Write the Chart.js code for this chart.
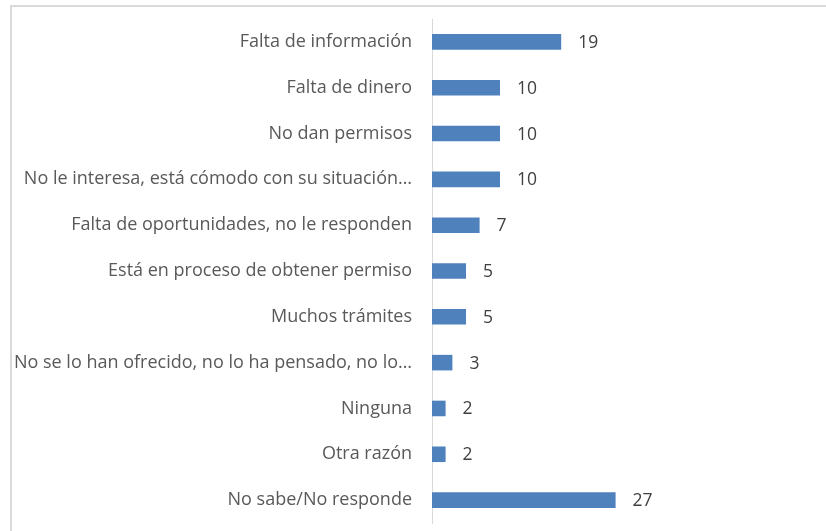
<!DOCTYPE html>
<html>
<head>
<meta charset="utf-8">
<script src="https://cdn.jsdelivr.net/npm/chart.js@4/dist/chart.umd.min.js"></script>
<style>
	body { margin: 0; background: #fff; }
	#wrap { position: relative; width: 826px; height: 531px; }
	#frame { position: absolute; left: 10px; top: 5px; right: 0; bottom: 0; border-top: 2px solid #d9d9d9; border-left: 2px solid #d9d9d9; }
	canvas { position: absolute; left: 0; top: 0; }
</style>
</head>
<body>
<div id="wrap">
	<div id="frame"></div>
	<canvas id="chart" width="826" height="531"></canvas>
</div>
<script>
// razones (%)
const categories = [
	'Falta de información',
	'Falta de dinero',
	'No dan permisos',
	'No le interesa, está cómodo con su situación…',
	'Falta de oportunidades, no le responden',
	'Está en proceso de obtener permiso',
	'Muchos trámites',
	'No se lo han ofrecido, no lo ha pensado, no lo…',
	'Ninguna',
	'Otra razón',
	'No sabe/No responde',
];
const values = [19, 10, 10, 10, 7, 5, 5, 3, 2, 2, 27];

const barColor = '#4f81bd';
const textColor = '#595959';

// value labels at the end of each bar
const valueLabels = {
	id: 'valueLabels',
	afterDatasetsDraw(chart) {
		const ctx = chart.ctx;
		const meta = chart.getDatasetMeta(0);
		ctx.save();
		ctx.font = '17.5px "Open Sans"';
		ctx.fillStyle = '#404040';
		ctx.textAlign = 'left';
		ctx.textBaseline = 'middle';
		meta.data.forEach((bar, i) => {
			ctx.fillText(values[i], bar.x + 17, bar.y + 1);
		});
		ctx.restore();
	}
};

const ctx = document.getElementById('chart').getContext('2d');
new Chart(ctx, {
	type: 'bar',
	data: {
		labels: categories,
		datasets: [{
			data: values,
			backgroundColor: barColor,
			barPercentage: 0.68,
			categoryPercentage: 0.5,
		}],
	},
	options: {
		indexAxis: 'y',
		responsive: false,
		animation: false,
		layout: { autoPadding: false, padding: { top: 19, bottom: 8, right: 190, left: 0 } },
		plugins: {
			legend: { display: false },
			tooltip: { enabled: false },
		},
		scales: {
			x: {
				display: false,
				min: 0,
				max: 30,
			},
			y: {
				afterFit(scale) {
					scale.width = 432;
					scale.paddingTop = 0;
					scale.paddingBottom = 0;
				},
				grid: { display: false, drawTicks: false },
				border: { color: '#d9d9d9', width: 1 },
				ticks: {
					padding: 20,
					color: textColor,
					font: { family: 'Open Sans', size: 18 },
				},
			},
		},
	},
	plugins: [valueLabels],
});
</script>
</body>
</html>
